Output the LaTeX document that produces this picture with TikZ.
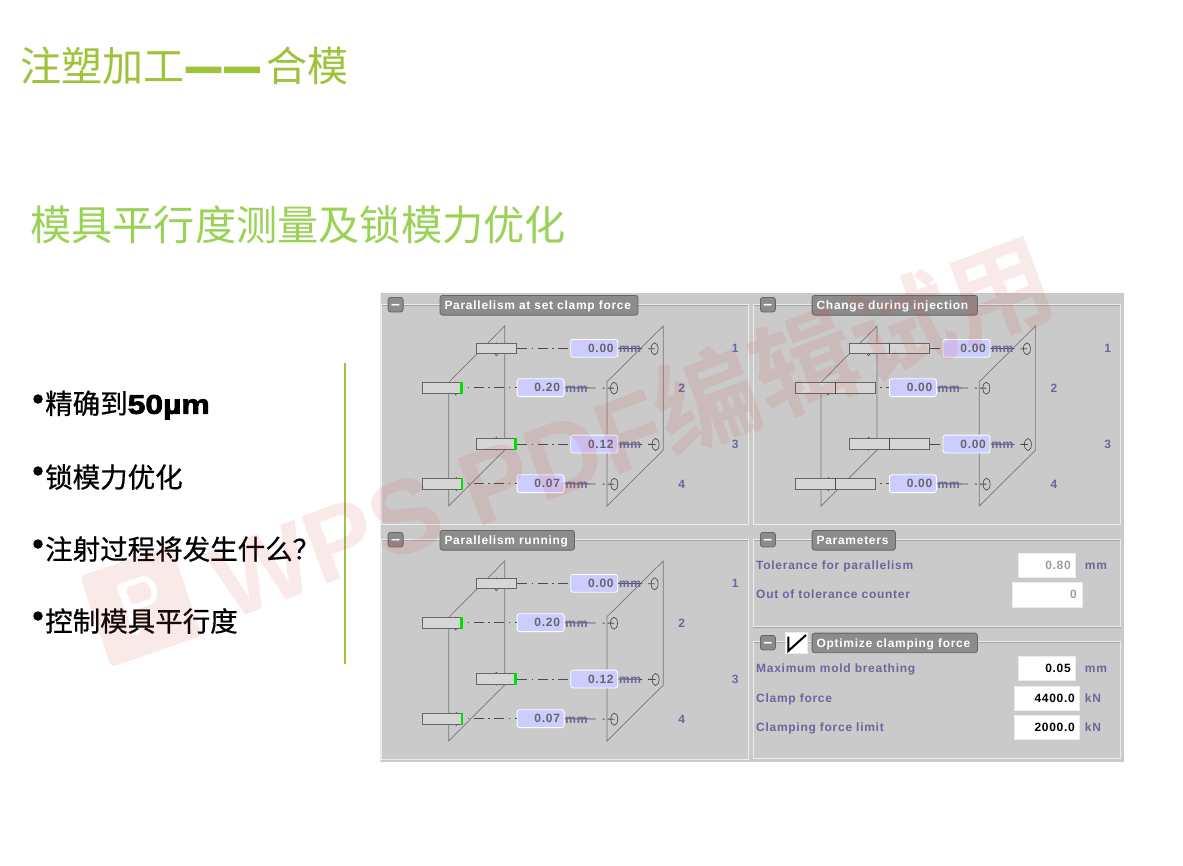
\documentclass[tikz,border=0pt]{standalone}
\usepackage{fontspec}
\usetikzlibrary{shapes.geometric}
\setmainfont{Liberation Sans}
\newfontfamily\cjk{Noto Sans CJK SC}
\newfontfamily\uifont[LetterSpace=6]{Liberation Sans Bold}
\newfontfamily\heavy[FakeBold=3,FakeStretch=1.18]{Liberation Sans Bold}
\newfontfamily\cjkb[FakeBold=0.6]{Noto Sans CJK SC}
\newfontfamily\cjkdash[FakeBold=6]{Noto Sans CJK SC Bold}
\newfontfamily\wmfont{Liberation Sans Bold}
\newfontfamily\wmcjk{Noto Sans CJK SC Bold}
\definecolor{panelgray}{HTML}{CACACA}
\definecolor{framelight}{HTML}{ECECEC}
\definecolor{framedark}{HTML}{A6A6A6}
\definecolor{tabgray}{HTML}{8C8C8C}
\definecolor{tabedge}{HTML}{666666}
\definecolor{labelblue}{HTML}{68689C}
\definecolor{valuefill}{HTML}{CCCCFF}
\definecolor{plateline}{HTML}{777777}
\definecolor{titlegreen}{HTML}{9DC33B}
\definecolor{subgreen}{HTML}{9AD255}
\definecolor{okgreen}{HTML}{00E000}
\definecolor{barfill}{HTML}{D6D6D6}
\definecolor{wmred}{HTML}{D93A3A}
\tikzset{
  uitext/.style={font=\uifont\fontsize{12}{12}\selectfont,text height=8.5pt,text depth=0pt},
  tabbox/.style={uitext,draw=tabedge,fill=tabgray,rounded corners=2.5pt,line width=.8pt,anchor=north west,inner xsep=4.5pt,inner ysep=0pt,align=left,text=white},
  minusbox/.style={draw=tabedge,fill=tabgray,rounded corners=2.5pt,line width=.8pt,minimum width=15pt,minimum height=14.5pt,inner sep=0pt,anchor=north west,text=white,text height=9.5pt,text depth=0pt,font=\bfseries\fontsize{16}{16}\selectfont},
  framein/.style={draw=framelight,line width=1pt},
  frameshade/.style={draw=framedark,line width=.7pt},
  plate/.style={draw=plateline,line width=.7pt},
  barbox/.style={draw=tabedge,fill=barfill,line width=1pt,minimum width=40pt,minimum height=10.6pt,inner sep=0pt,anchor=west},
  valuebox/.style={draw=white,fill=valuefill,rounded corners=2.5pt,line width=.8pt,minimum width=47pt,minimum height=17.8pt,inner sep=0pt,anchor=west},
  valuetext/.style={uitext,text=black!60,anchor=east,inner sep=0pt},
  unit/.style={uitext,text=labelblue,anchor=west,inner sep=0pt},
  lab/.style={uitext,text=labelblue,anchor=west,inner sep=0pt},
  rownum/.style={uitext,text=labelblue,inner sep=0pt},
  ringnode/.style={ellipse,draw=black!75,line width=.6pt,minimum width=7pt,minimum height=12pt,inner sep=0pt},
  marknode/.style={ellipse,draw=black!70,line width=.6pt,minimum width=4pt,minimum height=13pt,inner sep=0pt},
  dd/.style={draw=black!70,line width=.9pt,dash pattern=on 10pt off 4.5pt on 1.5pt off 4.5pt},
  inputbox/.style={draw=framelight,line width=1pt,fill=white,inner sep=0pt,anchor=north west,minimum height=24.3pt},
  inputtext/.style={uitext,anchor=east,inner sep=0pt},
  bullettext/.style={anchor=west,inner sep=0pt,text=black,font=\cjkb\fontsize{27.5}{28}\selectfont},
  bulletdot/.style={circle,fill=black,minimum size=9.5pt,inner sep=0pt},
  watermark/.style={text=wmred,text opacity=.11,inner sep=0pt},
}
% \gauge{prefix}{row}{bar left}{y}{box left}{ring x}{value}{green width}{long?}
\newcommand{\gauge}[9]{%
  \node[barbox] (#1bar#2) at (#3,#4) {};
  \ifnum#9=1
    \node[barbox] (#1barb#2) at (#3+40,#4) {};
    \draw[black!70,line width=1.3pt] (#1bar#2.north east) -- (#1bar#2.south east);
    \coordinate (#1start#2) at (#1barb#2.east);
  \else
    \coordinate (#1start#2) at (#1bar#2.east);
    \ifdim#8pt>0pt
      \fill[okgreen] ([xshift=-#8pt]#1bar#2.north east) rectangle (#1bar#2.south east);
    \fi
  \fi
  \node[valuebox] (#1box#2) at (#5,#4) {};
  \node[ringnode] (#1ring#2) at (#6,#4+.5) {};
  \ifodd#2
    \draw[dd] (#1start#2) -- (#1box#2.west);
    \draw[dd,dash pattern=on 24pt off 6pt on 20pt] (#1box#2.east) -- (#1ring#2.center);
  \else
    \draw[dd,dash phase=10pt] (#1start#2) -- (#1box#2.west);
    \draw[dd,dash pattern=on 31pt off 7pt on 2pt off 3pt on 10pt] (#1box#2.east) -- (#1ring#2.center);
  \fi
  \node[unit] (#1mm#2) at (#5+48.5,#4+.3) {mm};
  \node[valuetext] (#1val#2) at (#5+43.5,#4) {#7};
}
% \panelbody{prefix}{green1}{green2}{green3}{long?}{v1}{v2}{v3}{v4}
\newcommand{\panelbody}[9]{%
  \draw[plate] (448.7,382.3) -- (504.7,326) -- (504.7,450) -- (448.7,506) -- cycle;
  \draw[plate] (607,381.7) -- (663.3,326) -- (663.3,450) -- (607,506) -- cycle;
  \node[marknode] (#1k1) at (496.3,349.3) {};
  \node[marknode] (#1k2) at (455.7,388.5) {};
  \node[marknode] (#1k3) at (496.3,443.7) {};
  \node[marknode] (#1k4) at (456.3,484) {};
  \gauge{#1}{1}{476.3}{348.3}{570.3}{654.6}{#6}{#2}{#5}
  \gauge{#1}{2}{422.3}{387.7}{516.7}{614}{#7}{#3}{#5}
  \gauge{#1}{3}{476.3}{444}{570.3}{655.6}{#8}{#4}{#5}
  \gauge{#1}{4}{422.3}{483.7}{516.7}{614.3}{#9}{2}{#5}
  \node[rownum] (#1n1) at (735.3,348.5) {1};
  \node[rownum] (#1n2) at (681.7,388) {2};
  \node[rownum] (#1n3) at (735.3,444) {3};
  \node[rownum] (#1n4) at (681.7,484) {4};
}
\begin{document}
\begin{tikzpicture}[x=1pt,y=-1pt]
\useasboundingbox (0,0) rectangle (1183,865);
\fill[white] (0,0) rectangle (1183,865);
% headings
\node[anchor=west,inner sep=0pt,text=titlegreen,font=\cjk\fontsize{41}{42}\selectfont] (title) at (20,66) {注塑加工{\cjkdash\makebox[38.5pt][c]{—}\makebox[38.5pt][c]{—}}\kern5.5pt 合模};
\node[anchor=west,inner sep=0pt,text=subgreen,font=\cjk\fontsize{41.2}{42}\selectfont] (subtitle) at (30,225) {模具平行度测量及锁模力优化};
% left list
\node[bulletdot] (b1) at (38,399) {};
\node[bullettext] (t1) at (45,405) {精确到{\heavy\fontsize{27}{28}\selectfont 50µm}};
\node[bulletdot] (b2) at (38,471) {};
\node[bullettext] (t2) at (45,477) {锁模力优化};
\node[bulletdot] (b3) at (38,544) {};
\node[bullettext] (t3) at (45,549) {注射过程将发生什么？};
\node[bulletdot] (b4) at (38,616) {};
\node[bullettext] (t4) at (45,621) {控制模具平行度};
\draw[titlegreen,line width=1.3pt] (345,363) -- (345,664);
% main grey panel
\fill[panelgray] (379.5,292.5) rectangle (1123.5,761.5);
\draw[framelight,line width=1pt] (380,761) -- (380,293);
% frames
\foreach \a/\b/\c/\d in {381/304.7/748/524, 753/304.7/1120/524, 381/539.7/748/759, 753/539.7/1120/626.7, 753/641.7/1120/758}{
  \draw[frameshade] (\a+.7,\b+.7) rectangle (\c+.7,\d+.7);
  \draw[framein] (\a,\b) rectangle (\c,\d);
}
% panel 1
\panelbody{a}{0}{3.3}{3.3}{0}{0.00}{0.20}{0.12}{0.07}
\node[minusbox] (am) at (387.7,297) {–};
\node[tabbox,minimum width=198pt,minimum height=19.7pt,text width=189pt] (at) at (439.6,295) {Parallelism at set clamp force};
% panel 2
\begin{scope}[shift={(372.3,0)}]
\panelbody{b}{0}{0}{0}{1}{0.00}{0.00}{0.00}{0.00}
\end{scope}
\node[minusbox] (bm) at (760,297) {–};
\node[tabbox,minimum width=165.4pt,minimum height=19.7pt,text width=156.4pt] (bt) at (811.7,295) {Change during injection};
% panel 3
\begin{scope}[shift={(0,235)}]
\panelbody{c}{0}{3.3}{3.3}{0}{0.00}{0.20}{0.12}{0.07}
\end{scope}
\node[minusbox] (cm) at (387.7,532) {–};
\node[tabbox,minimum width=134.5pt,minimum height=19.7pt,text width=125.5pt] (ct) at (439.6,530) {Parallelism running};
% parameters
\node[minusbox] (dm) at (760,532) {–};
\node[tabbox,minimum width=83.3pt,minimum height=19.7pt,text width=74.3pt] (dt) at (811.7,530) {Parameters};
\node[lab] (l1) at (756,565) {Tolerance for parallelism};
\node[lab] (l2) at (756,594.5) {Out of tolerance counter};
\node[inputbox,minimum width=57.6pt] (i1) at (1017.7,553) {};
\node[inputtext,text=black!38] (v1) at (1071,565) {0.80};
\node[unit] (u1) at (1084.7,565) {mm};
\node[inputbox,minimum width=70pt] (i2) at (1011.7,582.3) {};
\node[inputtext,text=black!38] (v2) at (1077,594.5) {0};
% optimize
\node[minusbox] (em) at (760,635) {–};
\node[draw=framelight,line width=1pt,fill=white,minimum width=21.4pt,minimum height=21pt,inner sep=0pt,anchor=north west] (chk) at (785.3,631.7) {};
\draw[black,line width=2pt] ([xshift=3pt,yshift=-5pt]chk.north west) -- ([xshift=3pt,yshift=2.7pt]chk.south west) -- ([xshift=-1.7pt,yshift=-3.3pt]chk.north east);
\node[tabbox,minimum width=165.3pt,minimum height=19.6pt,text width=156.3pt] (et) at (811.7,632.7) {Optimize clamping force};
\node[lab] (l3) at (756,668.5) {Maximum mold breathing};
\node[lab] (l4) at (756,698) {Clamp force};
\node[lab] (l5) at (756,727.3) {Clamping force limit};
\node[inputbox,minimum width=57.6pt] (i3) at (1017.7,656) {};
\node[inputtext,text=black] (v3) at (1071,668.5) {0.05};
\node[unit] (u3) at (1084.7,668.5) {mm};
\node[inputbox,minimum width=65.6pt] (i4) at (1013.7,685.7) {};
\node[inputtext,text=black] (v4) at (1075,698) {4400.0};
\node[unit] (u4) at (1084.7,698) {kN};
\node[inputbox,minimum width=65.6pt] (i5) at (1013.7,715) {};
\node[inputtext,text=black] (v5) at (1075,727.3) {2000.0};
\node[unit] (u5) at (1084.7,727.3) {kN};
% watermark
\begin{scope}[rotate around={19:(141,606)}]
\fill[wmred,opacity=.11,rounded corners=4pt,even odd rule]
  (93,558) rectangle (189,654)
  (124,578) -- (147,578) arc[start angle=90,end angle=-90,radius=15pt] -- (132,608) -- (132,632) -- (125,632) -- cycle
  (132,584) -- (147,584) arc[start angle=90,end angle=-90,radius=9pt] -- (132,602) -- cycle;
\end{scope}
\node[watermark,anchor=west,rotate=20.5,font=\wmfont\fontsize{104}{104}\selectfont] (wm) at (214,584) {WPS PDF{\wmcjk 编辑试用}};
\end{tikzpicture}
\end{document}
